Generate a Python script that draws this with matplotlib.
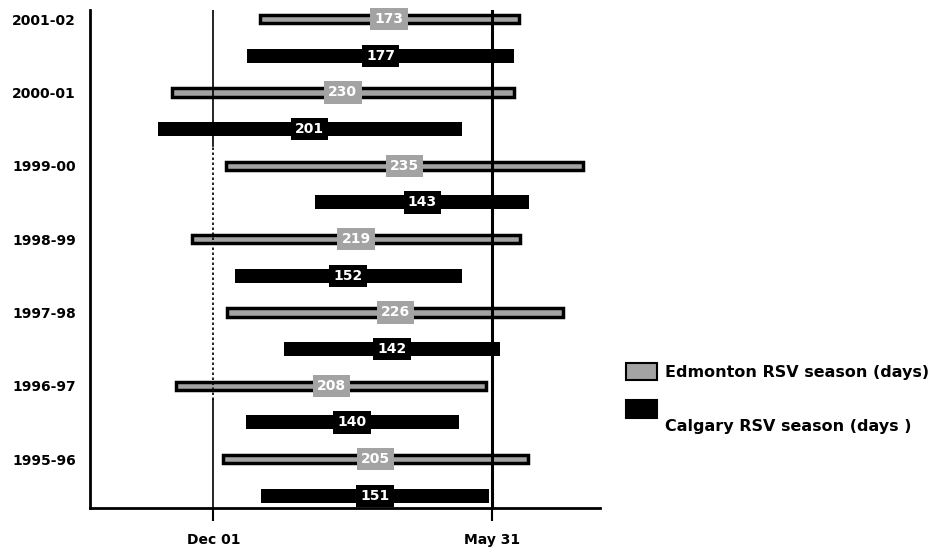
import matplotlib
matplotlib.use('Agg')
import matplotlib.pyplot as plt
from matplotlib.patches import Rectangle

plt.rcParams['font.family'] = ['Liberation Sans Narrow', 'DejaVu Sans']

# days counted from Dec 01 (May 31 = day 181)
seasons = ['1995-96', '1996-97', '1997-98', '1998-99', '1999-00', '2000-01', '2001-02']
edm_start = [6, -24, 9, -14, 8, -27, 30]
edm_end = [204, 177, 227, 199, 240, 195, 198]
edm_days = [205, 208, 226, 219, 235, 230, 173]
cal_start = [31, 21, 46, 14, 66, -36, 22]
cal_end = [179, 159, 186, 161, 205, 161, 195]
cal_days = [151, 140, 142, 152, 143, 201, 177]
tick_days = [0, 181]
tick_labels = ['Dec 01', 'May 31']

grey = '#a3a3a3'

fig = plt.figure(figsize=(9.47, 5.52), dpi=100)
ax = fig.add_axes([0.095, 0.08, 0.539, 0.902])

for i in range(len(seasons)):
    y_edm = 2 * i + 1
    y_cal = 2 * i
    ax.barh(y_edm, edm_end[i] - edm_start[i], left=edm_start[i], height=0.23,
            color=grey, edgecolor='black', linewidth=2.5, zorder=2)
    ax.barh(y_cal, cal_end[i] - cal_start[i], left=cal_start[i], height=0.38,
            color='black', zorder=2)
    ax.text((edm_start[i] + edm_end[i]) / 2, y_edm, str(edm_days[i]), ha='center', va='center',
            color='white', fontsize=10, fontweight='bold', zorder=4,
            bbox=dict(boxstyle='square,pad=0.3', fc=grey, ec='none'))
    ax.text((cal_start[i] + cal_end[i]) / 2, y_cal, str(cal_days[i]), ha='center', va='center',
            color='white', fontsize=10, fontweight='bold', zorder=4,
            bbox=dict(boxstyle='square,pad=0.3', fc='black', ec='none'))

ylo, yhi = -0.33, 13.25
# Dec 01 reference line: solid, dotted middle, solid
ax.plot([0, 0], [9.55, yhi], color='black', lw=1.2, zorder=3)
ax.plot([0, 0], [2.6, 9.55], color='black', lw=1.2, ls=(0, (1.5, 1.5)), zorder=3)
ax.plot([0, 0], [ylo, 2.6], color='black', lw=1.2, zorder=3)
ax.plot([181, 181], [ylo, yhi], color='black', lw=2.2, zorder=3)

ax.set_xlim(-80, 251)
ax.set_ylim(ylo, yhi)
ax.set_xticks(tick_days)
ax.set_xticklabels(tick_labels, fontsize=10, fontweight='bold')
ax.set_yticks([2 * i + 1 for i in range(len(seasons))])
ax.set_yticklabels(seasons, fontsize=10, fontweight='bold')
ax.tick_params(axis='x', length=9, width=1.5, pad=9)
ax.tick_params(axis='y', length=0, pad=10)
for s in ['top', 'right']:
    ax.spines[s].set_visible(False)
for s in ['left', 'bottom']:
    ax.spines[s].set_linewidth(2)

# legend
fig.patches.append(Rectangle((626 / 947, 1 - 380 / 552), 31 / 947, 17 / 552, transform=fig.transFigure,
                             fc=grey, ec='black', lw=1.5))
fig.patches.append(Rectangle((626 / 947, 1 - 418 / 552), 31 / 947, 18 / 552, transform=fig.transFigure,
                             fc='black', ec='black', lw=1.5))
fig.text(665 / 947, 1 - 372 / 552, 'Edmonton RSV season (days)', fontsize=11.5, fontweight='bold', va='center')
fig.text(665 / 947, 1 - 426 / 552, 'Calgary RSV season (days )', fontsize=11.5, fontweight='bold', va='center')

fig.savefig('out.png', dpi=100)
